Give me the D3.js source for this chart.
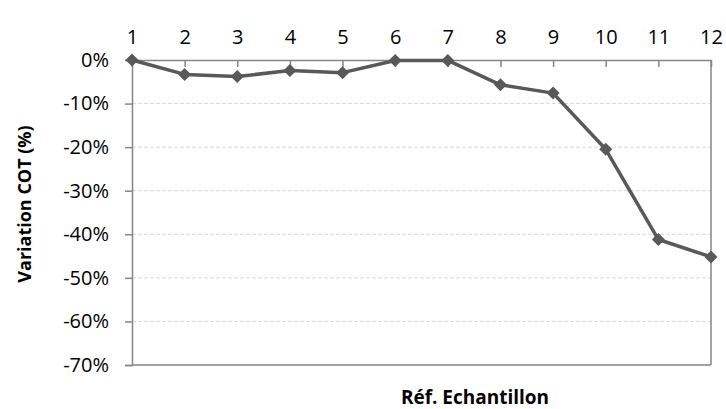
<!DOCTYPE html>
<html>
<head>
<meta charset="utf-8">
<script src="https://cdn.jsdelivr.net/npm/d3@7"></script>
<style>
  html, body { margin: 0; padding: 0; background: #fff; }
  svg { display: block; }
  text { font-family: "Open Sans", "Liberation Sans", sans-serif; fill: #000; }
</style>
</head>
<body>
<svg id="chart" width="726" height="409"></svg>
<script>
// Sample references (top axis) and TOC variation in percent
const samples = [1, 2, 3, 4, 5, 6, 7, 8, 9, 10, 11, 12];
const variation = [0, -3.3, -3.8, -2.4, -2.9, -0.1, -0.1, -5.7, -7.6, -20.5, -41.2, -45.2];
const yTicks = [0, -10, -20, -30, -40, -50, -60, -70];
const yTitle = "Variation COT (%)";
const xTitle = "Réf. Echantillon";

const svg = d3.select("#chart");
const plotLeft = 132, plotRight = 711, plotTop = 60, plotBottom = 365;

const x = d3.scalePoint().domain(samples).range([plotLeft, plotRight]);
const y = d3.scaleLinear().domain([0, -70]).range([plotTop, plotBottom]);

const axisColor = "#868686";

// dashed horizontal gridlines
svg.append("g").selectAll("line")
  .data(yTicks.filter(d => d !== 0 && d !== -70))
  .join("line")
  .attr("x1", plotLeft).attr("x2", plotRight)
  .attr("y1", d => y(d)).attr("y2", d => y(d))
  .attr("stroke", "#d9d9d9").attr("stroke-width", 1)
  .attr("stroke-dasharray", "4,2");

// right and bottom frame lines
svg.append("line").attr("x1", plotRight).attr("x2", plotRight).attr("y1", plotTop).attr("y2", plotBottom)
  .attr("stroke", axisColor).attr("stroke-width", 1.5);
svg.append("line").attr("x1", plotLeft).attr("x2", plotRight).attr("y1", plotBottom).attr("y2", plotBottom)
  .attr("stroke", axisColor).attr("stroke-width", 1.5);

// left value axis
const yAxis = svg.append("g")
  .attr("transform", `translate(${plotLeft},0)`)
  .call(d3.axisLeft(y).tickValues(yTicks).tickSize(7).tickPadding(16)
    .tickFormat(d => `${d}%`));
yAxis.select(".domain").attr("stroke", axisColor).attr("stroke-width", 1.5);
yAxis.selectAll(".tick line").attr("stroke", axisColor).attr("stroke-width", 1.5);
yAxis.selectAll(".tick text").attr("font-size", 20)
  .attr("font-family", "'Open Sans', sans-serif").attr("fill", "#000");

// top category axis, ticks pointing into the plot
const xAxis = svg.append("g")
  .attr("transform", `translate(0,${plotTop})`)
  .call(d3.axisTop(x).tickSize(-7).tickSizeOuter(0).tickPadding(0));
xAxis.select(".domain").attr("stroke", axisColor).attr("stroke-width", 1.5);
xAxis.selectAll(".tick line").attr("stroke", axisColor).attr("stroke-width", 1.5);
xAxis.selectAll(".tick text").attr("font-size", 20)
  .attr("font-family", "'Open Sans', sans-serif").attr("fill", "#000")
  .attr("y", -30).attr("dy", "0.71em");

// data line
const pts = samples.map((s, i) => [x(s), y(variation[i])]);
svg.append("path")
  .attr("d", d3.line()(pts))
  .attr("fill", "none").attr("stroke", "#595959").attr("stroke-width", 3.5)
  .attr("stroke-linejoin", "round");

// diamond markers
svg.append("g").selectAll("path")
  .data(pts)
  .join("path")
  .attr("transform", d => `translate(${d[0]},${d[1]})`)
  .attr("d", "M0,-6.5L6.5,0L0,6.5L-6.5,0Z")
  .attr("fill", "#595959");

// axis titles
svg.append("text")
  .attr("transform", `translate(31,204) rotate(-90)`)
  .attr("text-anchor", "middle")
  .attr("font-size", 18).attr("font-weight", "bold")
  .text(yTitle);

svg.append("text")
  .attr("x", 475).attr("y", 404)
  .attr("text-anchor", "middle")
  .attr("font-size", 19).attr("font-weight", "bold")
  .text(xTitle);
</script>
</body>
</html>
